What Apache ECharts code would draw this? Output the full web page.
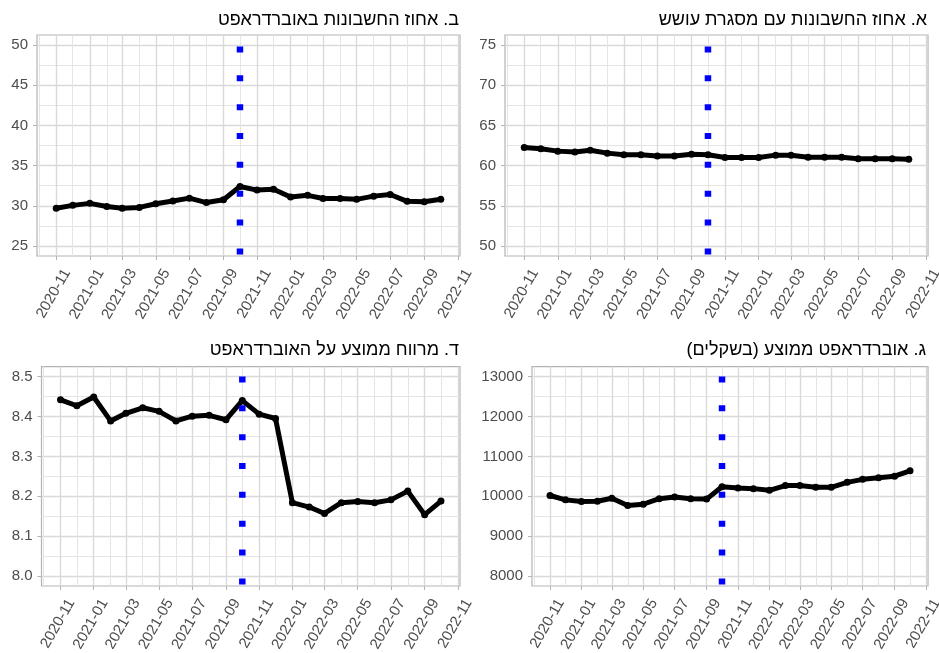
<!DOCTYPE html>
<html><head><meta charset="utf-8">
<script src="https://cdn.jsdelivr.net/npm/echarts@6/dist/echarts.min.js"></script>
<style>html,body{margin:0;padding:0;background:#fff}#c{width:939px;height:653px}</style>
</head><body><div id="c"></div>
<script>
// ---------- data ----------
const months = ['2020-11-01','2020-12-01','2021-01-01','2021-02-01','2021-03-01','2021-04-01','2021-05-01','2021-06-01',
  '2021-07-01','2021-08-01','2021-09-01','2021-10-01','2021-11-01','2021-12-01','2022-01-01','2022-02-01',
  '2022-03-01','2022-04-01','2022-05-01','2022-06-01','2022-07-01','2022-08-01','2022-09-01','2022-10-01'];
const vlineDate = '2021-10-01';

// א. share of accounts with a credit frame
const shareWithFrame = [62.25,62.1,61.8,61.7,61.9,61.55,61.35,61.35,61.2,61.2,61.4,61.35,
  61.0,61.0,61.0,61.3,61.3,61.05,61.05,61.05,60.85,60.85,60.85,60.8];
// ב. share of accounts in overdraft
const shareInOverdraft = [29.7,30.05,30.3,29.9,29.7,29.8,30.25,30.6,30.95,30.4,30.75,32.4,
  31.95,32.05,31.1,31.3,30.9,30.9,30.8,31.2,31.4,30.55,30.5,30.8];
// ג. average overdraft (NIS)
const avgOverdraft = [10020,9910,9870,9875,9950,9770,9800,9940,9980,9940,9930,10240,
  10205,10192,10150,10270,10270,10225,10225,10350,10425,10465,10505,10640];
// ד. average spread on overdraft
const avgSpread = [8.442,8.427,8.449,8.389,8.408,8.422,8.413,8.389,8.401,8.403,8.392,8.440,
  8.406,8.395,8.184,8.173,8.157,8.184,8.187,8.184,8.191,8.213,8.154,8.188];

const titleA = 'א. אחוז החשבונות עם מסגרת עושש';
const titleB = 'ב. אחוז החשבונות באוברדראפט';
const titleC = 'ג. אוברדראפט ממוצע (בשקלים)';
const titleD = 'ד. מרווח ממוצע על האוברדראפט';

// tick values
const xMajorTicks = ['2020-11-01','2021-01-01','2021-03-01','2021-05-01','2021-07-01','2021-09-01','2021-11-01',
  '2022-01-01','2022-03-01','2022-05-01','2022-07-01','2022-09-01','2022-11-01'];
const xMinorTicks = ['2020-10-01','2020-12-01','2021-02-01','2021-04-01','2021-06-01','2021-08-01','2021-10-01',
  '2021-12-01','2022-02-01','2022-04-01','2022-06-01','2022-08-01','2022-10-01'];
const yTicksA = [50,55,60,65,70,75];          const yMinorA = [52.5,57.5,62.5,67.5,72.5];
const yTicksB = [25,30,35,40,45,50];          const yMinorB = [27.5,32.5,37.5,42.5,47.5];
const yTicksC = [8000,9000,10000,11000,12000,13000]; const yMinorC = [8500,9500,10500,11500,12500];
const yTicksD = [8.0,8.1,8.2,8.3,8.4,8.5];     const yMinorD = [8.05,8.15,8.25,8.35,8.45];
const yLimitsA = [50,75], yLimitsB = [25,50], yLimitsC = [8000,13000], yLimitsD = [8.0,8.5];

// ---------- helpers ----------
function ts(s){ const p = s.split('-').map(Number); return Date.UTC(p[0], p[1]-1, p[2]||1); }
function expand(l){ const d = (l[1]-l[0])*0.05; return [l[0]-d, l[1]+d]; }
const xLim = expand([ts(months[0]), ts(months[months.length-1])]);
function fmtMonth(v){ const d = new Date(v); const m = d.getUTCMonth()+1; return d.getUTCFullYear()+'-'+(m<10?'0':'')+m; }

const FONT = 'Liberation Sans, Arial, sans-serif';
const panels = [
  {title: titleA, data: shareWithFrame, yTicks: yTicksA, yMinor: yMinorA, yLim: yLimitsA, dec: 0,
   grid: {left: 505, top: 35, width: 423, height: 221}, tRight: 12, tTop: 10},
  {title: titleB, data: shareInOverdraft, yTicks: yTicksB, yMinor: yMinorB, yLim: yLimitsB, dec: 0,
   grid: {left: 37, top: 35, width: 423, height: 221}, tRight: 480, tTop: 10},
  {title: titleC, data: avgOverdraft, yTicks: yTicksC, yMinor: yMinorC, yLim: yLimitsC, dec: 0,
   grid: {left: 532, top: 366.7, width: 396, height: 219.3}, tRight: 13, tTop: 340},
  {title: titleD, data: avgSpread, yTicks: yTicksD, yMinor: yMinorD, yLim: yLimitsD, dec: 1,
   grid: {left: 41.5, top: 366.7, width: 418.5, height: 219.3}, tRight: 480, tTop: 340}
];

const majorLine = {show: true, lineStyle: {color: '#D9D9D9', width: 1.4}};
const minorLine = {show: true, lineStyle: {color: '#E4E4E4', width: 1}};
const option = {animation: false, backgroundColor: '#fff',
  title: [], grid: [], xAxis: [], yAxis: [], series: []};

panels.forEach((p, i) => {
  const yl = expand(p.yLim);
  option.title.push({text: '\u202B' + p.title + '\u202C', right: p.tRight, top: p.tTop, padding: 0,
    textStyle: {fontFamily: FONT, fontSize: 18, fontWeight: 'normal', color: '#000', lineHeight: 21}});
  option.grid.push(Object.assign({show: true, borderColor: '#B3B3B3', borderWidth: 1.2, backgroundColor: '#fff',
    containLabel: false, outerBoundsMode: 'none'}, p.grid));
  // major x (dates as UTC ms on a value axis)
  option.xAxis.push({type: 'value', gridIndex: i, min: xLim[0], max: xLim[1], scale: true,
    axisLine: {show: false},
    axisTick: {show: true, length: 4, lineStyle: {color: '#B3B3B3'}, customValues: xMajorTicks.map(ts)},
    axisLabel: {customValues: xMajorTicks.map(ts), rotate: 60, margin: 8, padding: [5, 0, 0, 0],
      fontFamily: FONT, fontSize: 15, verticalAlign: 'top', color: '#4D4D4D',
      formatter: v => fmtMonth(v), hideOverlap: false},
    splitLine: majorLine});
  // minor x
  option.xAxis.push({type: 'value', gridIndex: i, min: xLim[0], max: xLim[1], scale: true, position: 'bottom',
    axisLine: {show: false}, axisLabel: {show: false},
    axisTick: {show: false, customValues: xMinorTicks.map(ts)}, splitLine: minorLine});
  // major y
  option.yAxis.push({type: 'value', gridIndex: i, min: yl[0], max: yl[1], scale: true,
    axisLine: {show: false},
    axisTick: {show: true, length: 4, lineStyle: {color: '#B3B3B3'}, customValues: p.yTicks},
    axisLabel: {customValues: p.yTicks, margin: 9, fontFamily: FONT, fontSize: 15, color: '#4D4D4D',
      formatter: v => v.toFixed(p.dec)},
    splitLine: majorLine});
  // minor y
  option.yAxis.push({type: 'value', gridIndex: i, min: yl[0], max: yl[1], scale: true, position: 'left',
    axisLine: {show: false}, axisLabel: {show: false},
    axisTick: {show: false, customValues: p.yMinor}, splitLine: minorLine});

  option.series.push({type: 'line', xAxisIndex: 2*i, yAxisIndex: 2*i, z: 3,
    data: months.map((m, k) => [ts(m), p.data[k]]),
    symbol: 'circle', symbolSize: 7, showSymbol: true,
    itemStyle: {color: '#000'}, lineStyle: {color: '#000', width: 5, join: 'round'}});
  option.series.push({type: 'line', xAxisIndex: 2*i, yAxisIndex: 2*i, z: 4, symbol: 'none',
    data: [[ts(vlineDate), yl[0]], [ts(vlineDate), yl[1]]],
    lineStyle: {color: '#0000FF', width: 6.5, type: [6, 22.86], dashOffset: 27.3, cap: 'butt'}});
});

const chart = echarts.init(document.getElementById('c'), null, {renderer: 'canvas'});
chart.setOption(option);
</script>
</body></html>
